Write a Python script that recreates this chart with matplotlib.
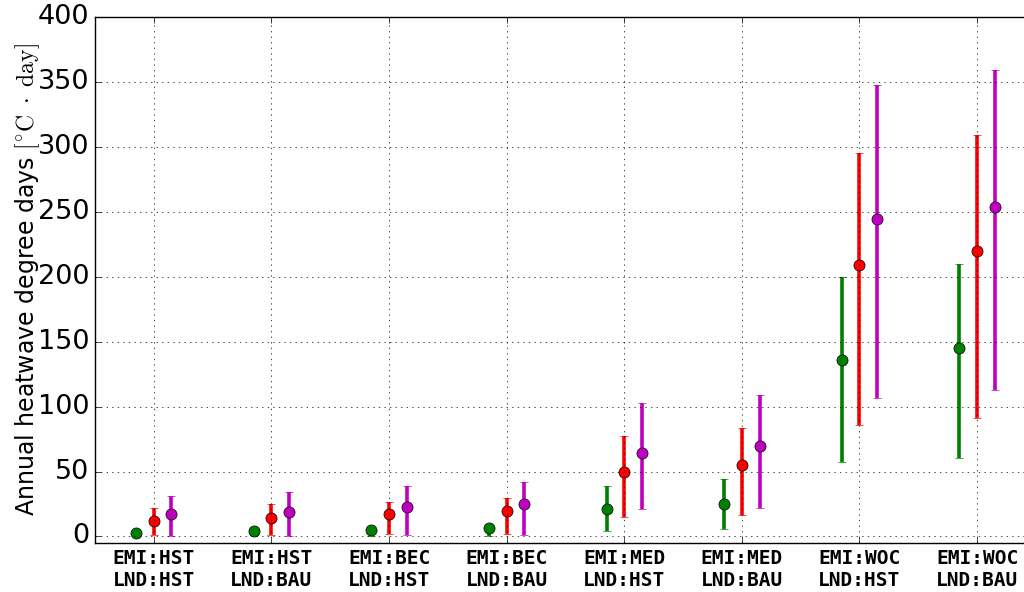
import numpy as np
import matplotlib
matplotlib.use('Agg')
import matplotlib.pyplot as plt

# estilo clasico de matplotlib 1.x
plt.style.use('classic')

# categorias (emision / uso del suelo)
etiquetas = ['EMI:HST\nLND:HST', 'EMI:HST\nLND:BAU', 'EMI:BEC\nLND:HST', 'EMI:BEC\nLND:BAU',
             'EMI:MED\nLND:HST', 'EMI:MED\nLND:BAU', 'EMI:WOC\nLND:HST', 'EMI:WOC\nLND:BAU']

# valores medios y limites inferior / superior para cada serie
verde_media = [2.8, 4.0, 4.8, 6.7, 21.5, 25.1, 136.0, 145.4]
verde_bajo = [1.5, 1.5, 0.5, 0.0, 4.4, 5.9, 57.7, 60.2]
verde_alto = [4.0, 6.0, 7.0, 9.0, 38.7, 44.0, 200.0, 209.5]

rojo_media = [12.0, 14.4, 17.0, 19.5, 50.0, 55.4, 208.7, 219.8]
rojo_bajo = [1.0, 0.8, 1.8, 2.0, 14.9, 16.7, 86.0, 91.3]
rojo_alto = [22.0, 25.0, 26.7, 30.0, 77.5, 83.3, 295.4, 309.0]

magenta_media = [17.0, 19.0, 22.8, 25.4, 64.6, 69.5, 244.6, 253.8]
magenta_bajo = [0.5, 0.5, 1.0, 1.0, 21.0, 22.0, 107.0, 112.5]
magenta_alto = [31.0, 34.4, 39.0, 42.0, 102.8, 108.7, 347.7, 358.9]

series = [
    (verde_media, verde_bajo, verde_alto, 'g', -0.15),
    (rojo_media, rojo_bajo, rojo_alto, 'r', 0.0),
    (magenta_media, magenta_bajo, magenta_alto, 'm', 0.15),
]

fig = plt.figure(figsize=(10.24, 5.92), dpi=100, facecolor='white')
ax = fig.add_axes([0.0928, 0.0828, 0.9188, 0.8885])

x = np.arange(len(etiquetas))
for media, bajo, alto, color, desp in series:
    media = np.array(media)
    yerr = [media - np.array(bajo), np.array(alto) - media]
    ax.errorbar(x + desp, media, yerr=yerr, fmt='o', color=color, ecolor=color,
                mec='black', mew=0.5, ms=8, elinewidth=2.6, capsize=3, capthick=2.6)

ax.set_xlim(-0.5, 7.5)
ax.set_ylim(-5, 400)
ax.set_yticks(np.arange(0, 401, 50))
ax.set_xticks(x)
ax.set_xticklabels(etiquetas, family='DejaVu Sans Mono', fontweight='bold', fontsize=14)
ax.tick_params(axis='y', labelsize=19.5)
ax.set_ylabel(r'Annual heatwave degree days $[^{\circ}\mathrm{C}\ \cdot\ \mathrm{day}]$',
              fontsize=17, labelpad=-3)

# grilla punteada encima de las barras
ax.grid(True, color='black', linestyle=':', linewidth=0.5)
ax.set_axisbelow(False)

plt.savefig('out.png', dpi=100, facecolor='white')
